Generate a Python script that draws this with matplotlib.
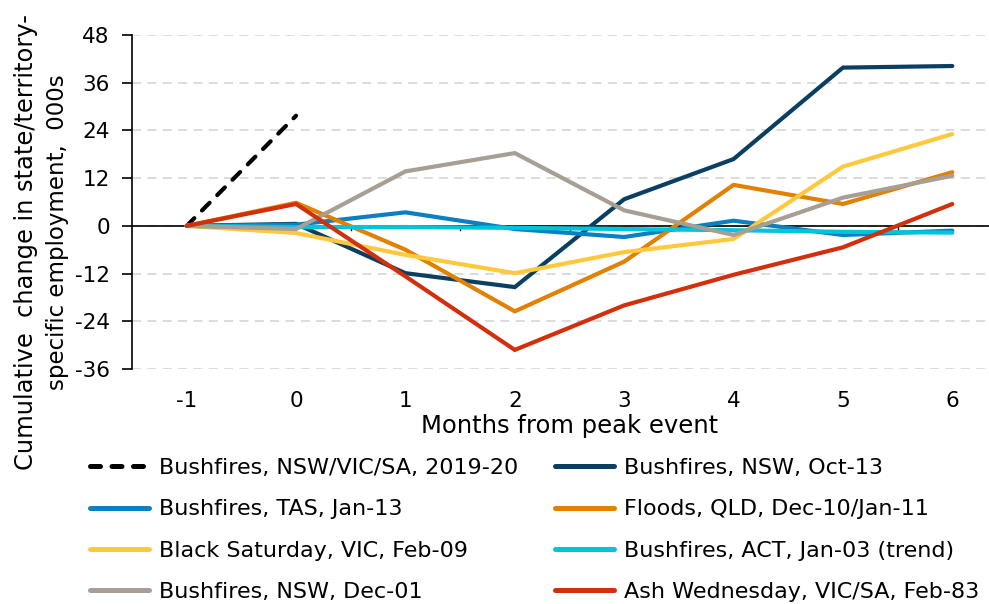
import matplotlib
matplotlib.use("Agg")
import matplotlib.pyplot as plt
from matplotlib.lines import Line2D

months = [-1, 0, 1, 2, 3, 4, 5, 6]
yticks = [-36, -24, -12, 0, 12, 24, 36, 48]

bush_2019 = [0, 27.7]
bush_nsw_oct13 = [0, 0.5, -11.9, -15.4, 6.7, 16.8, 39.8, 40.2]
bush_tas_jan13 = [0, 0.3, 3.4, -0.8, -2.8, 1.3, -2.3, -1.2]
floods_qld = [0, 5.8, -6.0, -21.5, -9.0, 10.3, 5.5, 13.5]
black_saturday = [0, -1.8, -7.3, -11.9, -6.6, -3.3, 14.9, 23.1]
bush_act = [0, -0.3, -0.3, -0.5, -0.8, -1.1, -1.5, -1.7]
bush_nsw_dec01 = [0, -0.8, 13.7, 18.3, 3.9, -2.3, 7.1, 12.6]
ash_wednesday = [0, 5.5, -12.7, -31.2, -20.0, -12.3, -5.4, 5.5]

labels = [
    "Bushfires, NSW/VIC/SA, 2019-20",
    "Bushfires, NSW, Oct-13",
    "Bushfires, TAS, Jan-13",
    "Floods, QLD, Dec-10/Jan-11",
    "Black Saturday, VIC, Feb-09",
    "Bushfires, ACT, Jan-03 (trend)",
    "Bushfires, NSW, Dec-01",
    "Ash Wednesday, VIC/SA, Feb-83",
]
colors = ["#000000", "#0B3F62", "#0A7FC1", "#E28000", "#FFC83D",
          "#00C4DA", "#A79E94", "#D22F0C"]

plt.rcParams['font.family'] = ['DejaVu Sans']
tick_fs = 15.5
lab_fs = 17.5
leg_fs = 16

W, H = 989, 604
fig = plt.figure(figsize=(W / 100, H / 100), dpi=100)
ax = fig.add_axes([132 / W, 1 - 369 / H, (1007 - 132) / W, (369 - 35) / H])

series = [bush_2019, bush_nsw_oct13, bush_tas_jan13, floods_qld,
          black_saturday, bush_act, bush_nsw_dec01, ash_wednesday]
for i, (s, lab, c) in enumerate(zip(series, labels, colors)):
    x = months[:len(s)]
    if i == 0:
        ax.plot(x, s, color=c, lw=3, ls=(0, (2.6, 2.6)), label=lab,
                zorder=3 + i, dash_capstyle='round')
    else:
        ax.plot(x, s, color=c, lw=3, label=lab, zorder=3 + i,
                solid_capstyle='round', solid_joinstyle='miter')

ax.set_xlim(-1.5, 6.5)
ax.set_ylim(-36, 48)
ax.set_yticks(yticks)
ax.set_yticklabels([str(v) for v in yticks], fontsize=tick_fs)
ax.set_xticks(months)
ax.set_xticklabels([str(m) for m in months], fontsize=tick_fs)
ax.tick_params(axis='x', length=0, pad=16)
ax.tick_params(axis='y', length=7, width=1.2, direction='out', pad=9)

ax.grid(axis='y', color='#d9d9d9', lw=1.3, ls=(0, (5, 3.5)), zorder=0)
for sp in ['top', 'right', 'bottom']:
    ax.spines[sp].set_visible(False)
ax.spines['left'].set_linewidth(1.2)

ax.axhline(0, color='black', lw=1.2, zorder=2)
for t in [m + 0.5 for m in months[:-1]]:
    ax.plot([t, t], [0, -1.0], color='black', lw=1.0, zorder=2)

ax.set_xlabel("Months from peak event", fontsize=lab_fs, va='baseline')
ax.xaxis.set_label_coords(0.5, (369 - 433) / (369 - 35))

fig.text(26 / W, 1 - 242 / H, "Cumulative  change in state/territory-",
         rotation=90, ha='center', va='center', fontsize=17.4)
fig.text(58 / W, 1 - 232 / H, "specific employment,  000s",
         rotation=90, ha='center', va='center', fontsize=16.5)

order = [0, 2, 4, 6, 1, 3, 5, 7]
leg_handles = []
for i in order:
    if i == 0:
        leg_handles.append(Line2D([], [], color=colors[i], lw=3.6,
                                  ls=(0, (2.0, 2.3)), dash_capstyle='round'))
    else:
        leg_handles.append(Line2D([], [], color=colors[i], lw=3.6,
                                  solid_capstyle='round'))
fig.legend(leg_handles, [labels[i] for i in order], ncol=2,
           loc='upper left', bbox_to_anchor=(90 / W, 1 - 458 / H),
           frameon=False, fontsize=leg_fs, handlelength=2.66,
           handletextpad=0.43, columnspacing=1.67, labelspacing=0.96,
           borderpad=0, borderaxespad=0)

fig.savefig("out.png", dpi=100)
